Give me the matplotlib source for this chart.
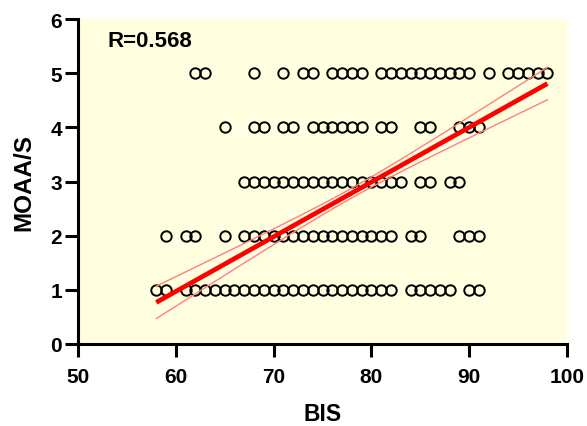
import numpy as np
import matplotlib.pyplot as plt

bis_5 = [62, 63, 68, 71, 73, 74, 76, 77, 78, 79, 81, 82, 83, 84, 85, 86, 87, 88, 89, 90,
         92, 94, 95, 96, 97, 98]
bis_4 = [65, 68, 69, 71, 72, 74, 75, 76, 77, 78, 79, 81, 82, 85, 86, 89, 90, 91]
bis_3 = [67, 68, 69, 70, 71, 72, 73, 74, 75, 76, 77, 78, 79, 80, 81, 82, 83, 85, 86, 88, 89]
bis_2 = [59, 61, 62, 65, 67, 68, 69, 70, 71, 72, 73, 74, 75, 76, 77, 78, 79, 80, 81, 82,
         84, 85, 89, 90, 91]
bis_1 = [58, 59, 61, 62, 63, 64, 65, 66, 67, 68, 69, 70, 71, 72, 73, 74, 75, 76, 77, 78,
         79, 80, 81, 82, 84, 85, 86, 87, 88, 90, 91]
levels = [5, 4, 3, 2, 1]
r_text = "R=0.568"

# regression line and 95% band (raw data has many ties)
fit_slope = 0.101
fit_intercept = -5.09
band_min = 0.09      # half-width at the mean BIS
band_grow = 0.0143   # growth of half-width per BIS unit away from mean
bis_mean = 78

plt.rcParams['font.family'] = ['Liberation Sans', 'DejaVu Sans']
plt.rcParams['font.weight'] = 'bold'

groups = [bis_5, bis_4, bis_3, bis_2, bis_1]
x = np.concatenate(groups).astype(float)
y = np.concatenate([[lv] * len(b) for lv, b in zip(levels, groups)]).astype(float)

xf = np.linspace(x.min(), x.max(), 100)
yf = fit_slope * xf + fit_intercept
band = np.sqrt(band_min ** 2 + (band_grow * (xf - bis_mean)) ** 2)

fig = plt.figure(figsize=(5.87, 4.27), dpi=100)
ax = fig.add_axes([78 / 587, 82 / 427, 489 / 587, 325 / 427])
ax.set_facecolor('#ffffe0')

ax.plot(x, y, 'o', ms=7.5, mfc='none', mec='black', mew=1.4, zorder=3)
ax.plot(xf, yf, color='#ff0000', lw=3.4, zorder=4, solid_capstyle='butt')
ax.plot(xf, yf + band, color='#ff8080', lw=1, zorder=4)
ax.plot(xf, yf - band, color='#ff8080', lw=1, zorder=4)

ax.text(53.0, 5.61, r_text, fontsize=16, fontweight='bold', va='center')

ax.set_xlim(50, 100)
ax.set_ylim(0, 6)
ax.set_xticks([50, 60, 70, 80, 90, 100])
ax.set_yticks(range(7))
for sp in ['top', 'right']:
    ax.spines[sp].set_visible(False)
for sp in ['left', 'bottom']:
    ax.spines[sp].set_linewidth(2.2)
ax.tick_params(width=2.2, length=9.5, labelsize=15)
ax.tick_params(axis='x', pad=7)
ax.tick_params(axis='y', pad=2)
for lab in ax.get_xticklabels() + ax.get_yticklabels():
    lab.set_fontweight('bold')
ax.set_xlabel('BIS', fontsize=16.5, fontweight='bold', va='top')
ax.set_ylabel('MOAA/S', fontsize=17.5, fontweight='bold')
ax.xaxis.set_label_coords(0.5, -58 / 325)
ax.yaxis.set_label_coords(-43 / 489, 0.5)

fig.savefig('out.png', dpi=100)
